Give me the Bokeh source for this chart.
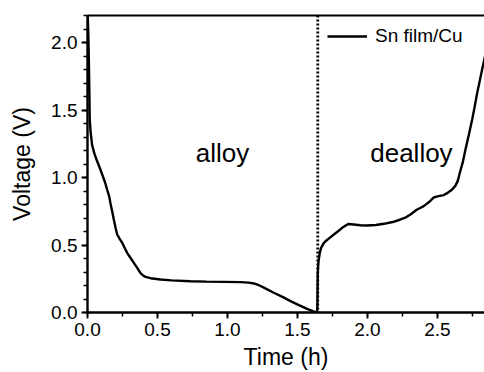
from bokeh.plotting import figure
from bokeh.models import (SingleIntervalTicker, LinearAxis, FixedTicker, Span, Label,
                          Legend, LegendItem, PrintfTickFormatter, Range1d)
from bokeh.embed import file_html
from bokeh.resources import INLINE

# ---- data ----
time_h = [0.000, 0.006, 0.010, 0.013, 0.016, 0.022, 0.033, 0.050, 0.069, 0.090,
          0.105, 0.125, 0.140, 0.155, 0.164, 0.176, 0.188, 0.200, 0.212, 0.230,
          0.248, 0.265, 0.283, 0.310, 0.331, 0.355, 0.379, 0.400, 0.414, 0.450,
          0.521, 0.600, 0.736, 0.850, 0.974, 1.093, 1.150, 1.188, 1.225, 1.260,
          1.331, 1.400, 1.450, 1.510, 1.569, 1.610, 1.629, 1.640,
          1.642, 1.645, 1.648, 1.652, 1.660, 1.669, 1.685, 1.700, 1.730, 1.760,
          1.790, 1.819, 1.845, 1.867, 1.900, 1.950, 1.998, 2.060, 2.117, 2.180,
          2.236, 2.275, 2.307, 2.335, 2.355, 2.380, 2.402, 2.440, 2.474, 2.500,
          2.545, 2.569, 2.605, 2.629, 2.645, 2.660, 2.680, 2.700, 2.725, 2.748,
          2.765, 2.784, 2.800, 2.819, 2.836, 2.850]
voltage_v = [2.250, 2.050, 1.850, 1.650, 1.430, 1.340, 1.240, 1.175, 1.120, 1.065,
             1.022, 0.965, 0.911, 0.860, 0.810, 0.750, 0.689, 0.630, 0.578, 0.545,
             0.516, 0.480, 0.442, 0.400, 0.368, 0.330, 0.291, 0.272, 0.264, 0.254,
             0.244, 0.238, 0.232, 0.229, 0.227, 0.225, 0.221, 0.215, 0.202, 0.184,
             0.146, 0.112, 0.084, 0.055, 0.027, 0.010, 0.003, 0.000,
             0.060, 0.293, 0.350, 0.393, 0.445, 0.479, 0.510, 0.528, 0.553, 0.578,
             0.602, 0.627, 0.645, 0.656, 0.652, 0.646, 0.644, 0.648, 0.657, 0.670,
             0.689, 0.705, 0.726, 0.748, 0.763, 0.776, 0.788, 0.818, 0.852, 0.860,
             0.870, 0.884, 0.911, 0.940, 0.975, 1.035, 1.110, 1.207, 1.320, 1.430,
             1.520, 1.627, 1.705, 1.800, 1.880, 1.950]

cut_time = 1.645
series_name = "Sn film/Cu"
region_labels = ["alloy", "dealloy"]
region_label_x = [0.964, 2.314]
region_label_y = [1.185, 1.185]

x_end = 2.836
y_end = 2.2

FONT = "Liberation Sans"

p = figure(width=484, height=372, output_backend="svg", toolbar_location=None,
           x_range=Range1d(0, x_end), y_range=Range1d(0, y_end),
           min_border_left=87, min_border_right=0, min_border_top=15, min_border_bottom=59,
           background_fill_color="white", border_fill_color="white")
p.outline_line_color = None
p.xgrid.visible = False
p.ygrid.visible = False

r = p.line(time_h, voltage_v, line_color="black", line_width=2.4)

p.add_layout(Span(location=cut_time, dimension="height", line_color="black",
                  line_width=2.8, line_dash="2 2"))

for txt, lx, ly in zip(region_labels, region_label_x, region_label_y):
    p.add_layout(Label(x=lx, y=ly, text=txt, text_align="center", text_baseline="alphabetic",
                       text_font=FONT, text_font_size="26px", text_color="black"))

# axes
for ax in (p.xaxis[0], p.yaxis[0]):
    ax.axis_line_width = 2.4
    ax.major_tick_line_width = 1.8
    ax.minor_tick_line_width = 1.5
    ax.major_tick_in = 0
    ax.major_tick_out = 6
    ax.minor_tick_in = 0
    ax.minor_tick_out = 4
    ax.major_label_text_font = FONT
    ax.major_label_text_font_size = "19px"
    ax.major_label_text_color = "black"
    ax.axis_label_text_font = FONT
    ax.axis_label_text_font_size = "23px"
    ax.axis_label_text_font_style = "normal"
    ax.axis_label_text_color = "black"
    ax.formatter = PrintfTickFormatter(format="%.1f")

p.xaxis.ticker = SingleIntervalTicker(interval=0.5, num_minor_ticks=2)
p.yaxis.ticker = SingleIntervalTicker(interval=0.5, num_minor_ticks=5)
p.xaxis.axis_label = "Time (h)"
p.yaxis.axis_label = "Voltage (V)"
p.xaxis.major_label_standoff = 4
p.xaxis.axis_label_standoff = 5
p.yaxis.major_label_standoff = 4
p.yaxis.axis_label_standoff = 13

top = LinearAxis(ticker=FixedTicker(ticks=[]), axis_line_width=2.2,
                 major_tick_out=0, minor_tick_out=0, major_tick_in=0, minor_tick_in=0,
                 major_label_text_font_size="0px")
p.add_layout(top, "above")

legend = Legend(items=[LegendItem(label=series_name, renderers=[r])],
                location=(240, 265), border_line_color=None, background_fill_alpha=0,
                padding=0, margin=0, glyph_width=40, glyph_height=20, label_standoff=8,
                label_text_font=FONT, label_text_font_size="19px", label_text_color="black")
p.add_layout(legend)

open("out.html", "w").write(file_html(p, INLINE))
